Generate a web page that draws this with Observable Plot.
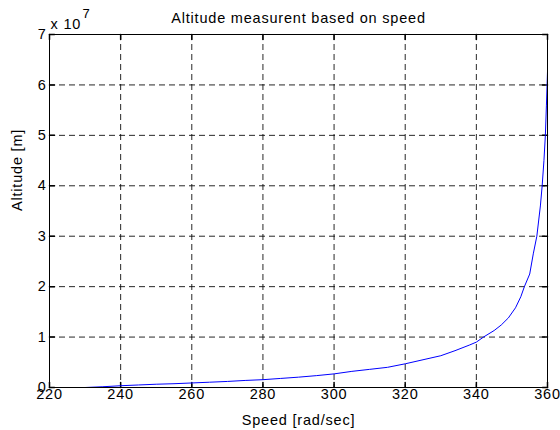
<!DOCTYPE html>
<html>
<head>
<meta charset="utf-8">
<script src="https://cdn.jsdelivr.net/npm/d3@7"></script>
<script src="https://cdn.jsdelivr.net/npm/@observablehq/plot@0.6"></script>
<style>
  html, body { margin: 0; padding: 0; background: #fff; }
</style>
</head>
<body>
<div id="chart"></div>
<script>
// ---- data ----
const speed = [230, 235, 240, 245, 250, 255, 260, 265, 270, 275, 280, 285, 290, 295, 300, 305, 310, 315, 320, 325, 330, 334, 338, 340, 342, 345, 347, 349, 351, 352.5, 353.5, 355, 356, 357, 358, 358.5, 359, 359.4, 359.7, 360];
const altitudeE7 = [0.0, 0.015, 0.035, 0.05, 0.065, 0.075, 0.09, 0.105, 0.12, 0.14, 0.155, 0.18, 0.205, 0.235, 0.27, 0.32, 0.36, 0.40, 0.47, 0.55, 0.63, 0.73, 0.84, 0.90, 1.0, 1.13, 1.24, 1.38, 1.58, 1.8, 2.0, 2.25, 2.65, 3.0, 3.6, 4.0, 4.5, 5.0, 5.6, 6.26];
const xTicks = [220, 240, 260, 280, 300, 320, 340, 360];
const yTicksE7 = [0, 1, 2, 3, 4, 5, 6, 7];
const titleText = "Altitude measurent based on speed";
const xLabelText = "Speed [rad/sec]";
const yLabelText = "Altitude [m]";
const exponentBase = "x 10";
const exponentPower = "7";

const data = speed.map((s, i) => ({speed: s, altitude: altitudeE7[i] * 1e7}));
const yTicks = yTicksE7.map(v => v * 1e7);

const tickShape = {draw(context, l) { context.moveTo(0, 0); context.lineTo(0, -l); }};
const gridStyle = {stroke: "#000", strokeOpacity: 0.85, strokeWidth: 1, strokeDasharray: "6,4"};

const chart = Plot.plot({
  width: 560,
  height: 430,
  marginLeft: 49,
  marginRight: 13,
  marginTop: 34,
  marginBottom: 43,
  style: {
    fontFamily: "'Liberation Sans', Arial, sans-serif",
    fontSize: "14.5px",
    letterSpacing: "0.8px",
    background: "#fff",
    color: "#000",
    overflow: "visible"
  },
  x: {domain: [220, 360], label: null},
  y: {domain: [0, 7e7], label: null},
  marks: [
    Plot.gridX(xTicks, gridStyle),
    Plot.gridY(yTicks, gridStyle),
    // inward tick marks
    Plot.vector(xTicks, {x: d => d, y: 0, length: 5, rotate: 0, anchor: "start", shape: tickShape, stroke: "#000"}),
    Plot.vector(xTicks, {x: d => d, y: 7e7, length: 5, rotate: 180, anchor: "start", shape: tickShape, stroke: "#000"}),
    Plot.vector(yTicks, {x: 220, y: d => d, length: 5, rotate: 90, anchor: "start", shape: tickShape, stroke: "#000"}),
    Plot.vector(yTicks, {x: 360, y: d => d, length: 5, rotate: 270, anchor: "start", shape: tickShape, stroke: "#000"}),
    Plot.line(data, {x: "speed", y: "altitude", stroke: "#0000ff", strokeWidth: 1}),
    Plot.frame({stroke: "#000", strokeWidth: 1}),
    Plot.axisX({ticks: xTicks, tickSize: 0, tickPadding: 1, label: null}),
    Plot.axisY({ticks: yTicks, tickSize: 0, tickPadding: 3, tickFormat: d => d / 1e7, label: null}),
    Plot.text([titleText], {frameAnchor: "top", lineAnchor: "middle", dy: -16}),
    Plot.text([exponentBase], {frameAnchor: "top-left", textAnchor: "start", lineAnchor: "middle", dx: 1, dy: -10}),
    Plot.text([exponentPower], {frameAnchor: "top-left", textAnchor: "start", lineAnchor: "middle", dx: 33, dy: -21, fontSize: 13}),
    Plot.text([xLabelText], {frameAnchor: "bottom", lineAnchor: "middle", dy: 33}),
    Plot.text([yLabelText], {frameAnchor: "left", lineAnchor: "middle", rotate: -90, dx: -32})
  ]
});

document.getElementById("chart").append(chart);
</script>
</body>
</html>
